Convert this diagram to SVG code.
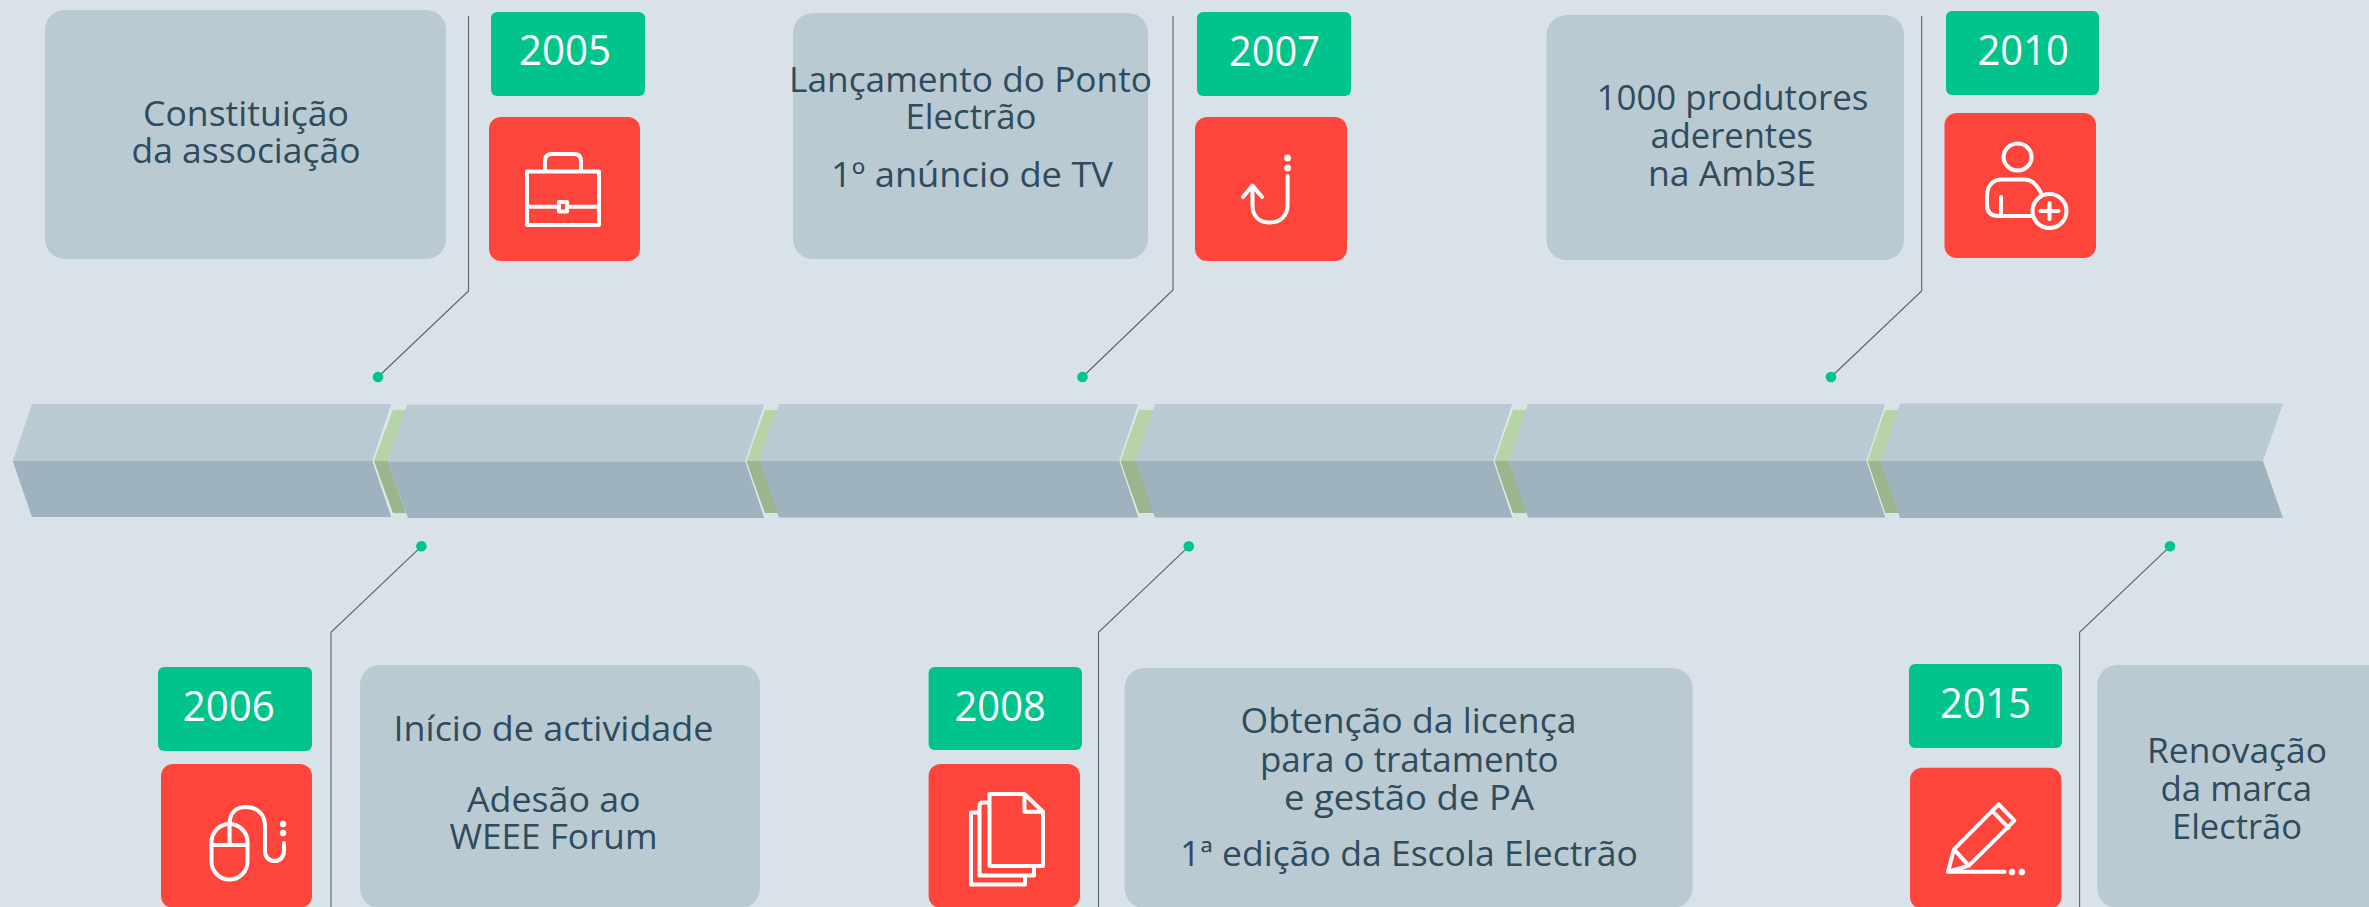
<svg xmlns="http://www.w3.org/2000/svg" width="2369" height="907" viewBox="0 0 2369 907">
<style>
.box{fill:#b9cad2}
.yr{fill:#00c48b}
.ico{fill:#fd453c}
.up{fill:#b9cad2}
.lo{fill:#9fb3be}
.gu{fill:#b7d3a8}
.gl{fill:#9bb58d}
.edge{fill:none;stroke:#e1e9ed;stroke-width:1.2}
.dot{fill:#00c48b}
.conn{fill:none;stroke:#51666f;stroke-width:1.1}
.t{font-family:"Open Sans","Noto Sans","Liberation Sans",sans-serif;font-size:34px;fill:#2f4b5c}
.y{font-family:"Open Sans","Noto Sans","Liberation Sans",sans-serif;font-size:42px;font-weight:400;fill:#fff}
.i{fill:none;stroke:#fff;stroke-width:4;stroke-linecap:round;stroke-linejoin:round}
.w{fill:#fff}
</style>
<rect width="2369" height="907" fill="#d9e2e8"/>
<g id="timeline">
<polygon points="2283,404 2303,461 2283,517 2263,461" fill="#dae3e9"/>
<path class="gu" d="M393 410H406L388 461H374Z"/><path class="gl" d="M374 461H388L406 513H393Z"/>
<path class="gu" d="M765 410H779L760 461H746Z"/><path class="gl" d="M746 461H760L779 513H765Z"/>
<path class="gu" d="M1139 410H1155L1136 461H1120Z"/><path class="gl" d="M1120 461H1136L1155 513H1139Z"/>
<path class="gu" d="M1513 410H1528L1509 461H1494Z"/><path class="gl" d="M1494 461H1509L1528 513H1513Z"/>
<path class="gu" d="M1885 410H1900L1881 461H1867Z"/><path class="gl" d="M1867 461H1881L1900 513H1885Z"/>
<path class="up" d="M32 404H392L373 461H12.7Z"/><path class="lo" d="M12.7 461H373L392 517H32Z"/>
<path class="up" d="M407 404.5H765L746 461.5H388Z"/><path class="lo" d="M388 461.5H746L765 518H408Z"/>
<path class="up" d="M779 404H1139L1120 461H760Z"/><path class="lo" d="M760 461H1120L1139 517.5H779Z"/>
<path class="up" d="M1155 404H1513L1494 461H1136Z"/><path class="lo" d="M1136 461H1494L1513 517.5H1155Z"/>
<path class="up" d="M1528 404H1886L1867 461H1509Z"/><path class="lo" d="M1509 461H1867L1886 517.5H1528Z"/>
<path class="up" d="M1900 403.5H2283L2263 461H1881Z"/><path class="lo" d="M1881 461H2263L2283 518H1900Z"/>
<path class="edge" d="M392 404L373 461L392 517M765 404.5L746 461.5L765 518M1139 404L1120 461L1139 517.5M1513 404L1494 461L1513 517.5M1886 404L1867 461L1886 517.5"/>
</g>
<g id="connectors">
<path class="conn" d="M468.5 16V291L378 377"/>
<path class="conn" d="M1173 16V290L1082.5 377"/>
<path class="conn" d="M1921.7 16V291L1831 377"/>
<path class="conn" d="M331 907V632.3L421.4 546.3"/>
<path class="conn" d="M1098.5 907V632.3L1188.8 546.3"/>
<path class="conn" d="M2079.6 907V632.3L2170 546.3"/>
<circle class="dot" cx="378" cy="377" r="5.3"/>
<circle class="dot" cx="1082.5" cy="377" r="5.3"/>
<circle class="dot" cx="1831" cy="377" r="5.3"/>
<circle class="dot" cx="421.4" cy="546.3" r="5.3"/>
<circle class="dot" cx="1188.8" cy="546.3" r="5.3"/>
<circle class="dot" cx="2170" cy="546.3" r="5.3"/>
</g>
<g id="node-2005">
<rect class="box" x="45" y="10" width="401" height="249" rx="20"/>
<text class="t" x="143" y="126" textLength="206" lengthAdjust="spacingAndGlyphs">Constituição</text>
<text class="t" x="131.5" y="163" textLength="229" lengthAdjust="spacingAndGlyphs">da associação</text>
<rect class="yr" x="491" y="12" width="154" height="84" rx="6"/>
<text class="y" x="519" y="64.7" textLength="92" lengthAdjust="spacingAndGlyphs">2005</text>
<rect class="ico" x="489" y="117" width="151" height="144" rx="12"/>
<path class="i" d="M527 171.5H599V225H527ZM545 171.5V161Q545 154 552 154H574Q581 154 581 161V171.5M527 206.7H559M567 206.7H599M559 202H567V211.5H559Z" stroke-linecap="butt"/>
</g>
<g id="node-2007">
<rect class="box" x="793" y="13" width="355" height="246" rx="20"/>
<text class="t" x="789" y="92" textLength="363" lengthAdjust="spacingAndGlyphs">Lançamento do Ponto</text>
<text class="t" x="905.5" y="129" textLength="131" lengthAdjust="spacingAndGlyphs">Electrão</text>
<text class="t" x="831" y="187" textLength="282" lengthAdjust="spacingAndGlyphs">1º anúncio de TV</text>
<rect class="yr" x="1197" y="12" width="154" height="84" rx="6"/>
<text class="y" x="1229" y="65.5" textLength="91" lengthAdjust="spacingAndGlyphs">2007</text>
<rect class="ico" x="1195" y="117" width="152" height="144" rx="12"/>
<path class="i" d="M1287.6 176V205C1287.6 216 1280 222.5 1270 222.5C1259 222.5 1252.5 216 1252.5 205V186M1243 197L1252.5 185.5L1262 197"/>
<circle class="w" cx="1287.6" cy="158" r="3.4"/><circle class="w" cx="1287.6" cy="168" r="3.4"/>
</g>
<g id="node-2010">
<rect class="box" x="1546.5" y="15" width="357.5" height="245" rx="20"/>
<text class="t" x="1596.5" y="110" textLength="272" lengthAdjust="spacingAndGlyphs">1000 produtores</text>
<text class="t" x="1650.5" y="147.7" textLength="162.5" lengthAdjust="spacingAndGlyphs">aderentes</text>
<text class="t" x="1648" y="186" textLength="168" lengthAdjust="spacingAndGlyphs">na Amb3E</text>
<rect class="yr" x="1946" y="11" width="153" height="84" rx="6"/>
<text class="y" x="1977.5" y="64.7" textLength="91.5" lengthAdjust="spacingAndGlyphs">2010</text>
<rect class="ico" x="1944.5" y="113" width="151.5" height="145" rx="12"/>
<g class="i"><ellipse cx="2017.6" cy="157" rx="14" ry="13.5"/>
<path d="M2032 216H1999Q1987 216 1987 205V197C1987 185 1993 179.5 2002 179.5H2025C2032 179.5 2038 186 2041 193M2001 197V216"/>
<circle cx="2049.5" cy="211" r="17"/><path d="M2049.5 203V219M2040.5 211H2058.5"/></g>
</g>
<g id="node-2006">
<rect class="box" x="360" y="665" width="400" height="243" rx="20"/>
<text class="t" x="393.5" y="740.7" textLength="320" lengthAdjust="spacingAndGlyphs">Início de actividade</text>
<text class="t" x="467" y="811.7" textLength="173.5" lengthAdjust="spacingAndGlyphs">Adesão ao</text>
<text class="t" x="449.5" y="849.3" textLength="208" lengthAdjust="spacingAndGlyphs">WEEE Forum</text>
<rect class="yr" x="158" y="667" width="154" height="84" rx="6"/>
<text class="y" x="182.7" y="720.7" textLength="92" lengthAdjust="spacingAndGlyphs">2006</text>
<rect class="ico" x="161" y="764" width="151" height="144" rx="12"/>
<rect class="i" x="211.5" y="824" width="36" height="55.5" rx="18"/>
<path class="i" d="M211.5 845H247.5M229.6 824V845M229.6 824C229.6 813 236 807 246 807C258 807 265 815 265 826V851C265 857 269 861 274.5 861C280 861 284 857 284 851V843"/>
<circle class="w" cx="283" cy="824" r="3.2"/><circle class="w" cx="283" cy="833" r="3.2"/>
</g>
<g id="node-2008">
<rect class="box" x="1124.5" y="668" width="568" height="240" rx="20"/>
<text class="t" x="1240.5" y="733.3" textLength="336" lengthAdjust="spacingAndGlyphs">Obtenção da licença</text>
<text class="t" x="1260" y="771.7" textLength="298.5" lengthAdjust="spacingAndGlyphs">para o tratamento</text>
<text class="t" x="1284" y="810" textLength="250" lengthAdjust="spacingAndGlyphs">e gestão de PA</text>
<text class="t" x="1180" y="865.7" textLength="458" lengthAdjust="spacingAndGlyphs">1ª edição da Escola Electrão</text>
<rect class="yr" x="928.6" y="667" width="153.4" height="83" rx="6"/>
<text class="y" x="954.5" y="720.7" textLength="91.5" lengthAdjust="spacingAndGlyphs">2008</text>
<rect class="ico" x="928.6" y="764" width="151.4" height="144" rx="12"/>
<path class="i" d="M1024.5 794H989.5V866H1043V811.7ZM1024.5 794V811.7H1043M989.5 802.5H983Q979.5 802.5 979.5 806V875.5H1034V866M979.5 812.5H971V884.5H1025V875.5" stroke-linejoin="miter"/>
</g>
<g id="node-2015">
<rect class="box" x="2097.3" y="665" width="290" height="243" rx="20"/>
<text class="t" x="2147" y="763.3" textLength="180" lengthAdjust="spacingAndGlyphs">Renovação</text>
<text class="t" x="2160.5" y="801" textLength="151.5" lengthAdjust="spacingAndGlyphs">da marca</text>
<text class="t" x="2172" y="839" textLength="130" lengthAdjust="spacingAndGlyphs">Electrão</text>
<rect class="yr" x="1909" y="664" width="153" height="84" rx="6"/>
<text class="y" x="1940" y="717.7" textLength="91" lengthAdjust="spacingAndGlyphs">2015</text>
<rect class="ico" x="1910" y="767.7" width="151.5" height="141" rx="12"/>
<path class="i" d="M1948 871.7L1954 849.3L1998.7 804.3L2014.4 820.7L1968.8 865.7ZM1993.8 812.7L2008.5 827.7M1954 849.3L1968.8 865.7M1948 871.7H2004.6"/>
<circle class="w" cx="2012" cy="872" r="3.2"/><circle class="w" cx="2021.8" cy="872" r="3.2"/>
</g>
</svg>
